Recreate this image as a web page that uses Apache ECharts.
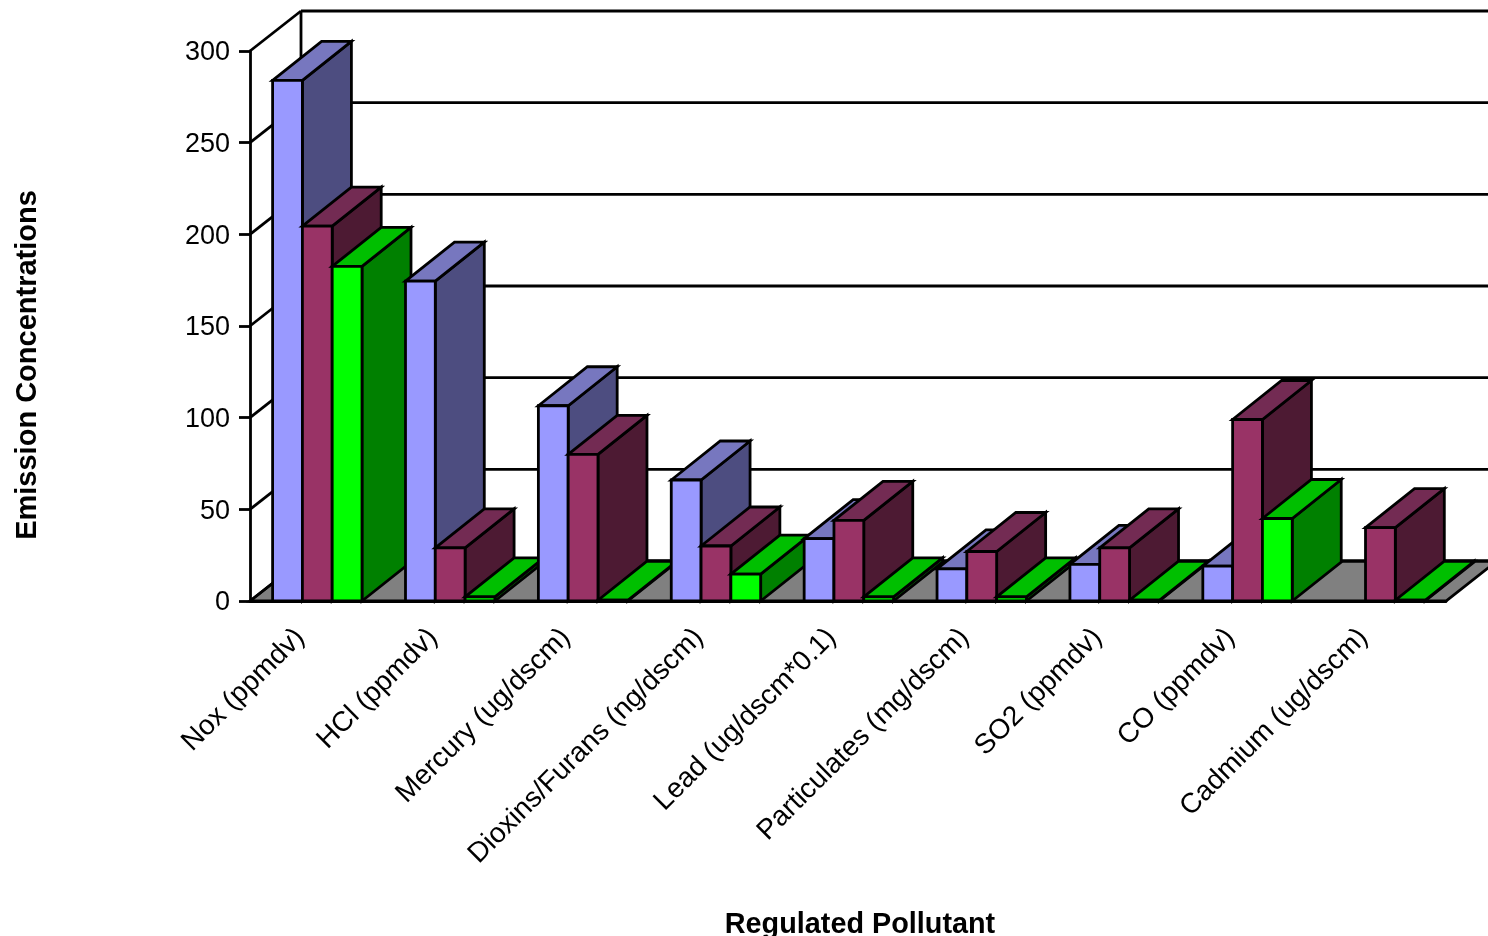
<!DOCTYPE html>
<html>
<head>
<meta charset="utf-8">
<title>Regulated pollutant emissions</title>
<style>html,body{margin:0;padding:0;background:#fff}#chart{width:1488px;height:936px}</style>
<script src="https://cdn.jsdelivr.net/npm/echarts@6/dist/echarts.min.js"></script>
</head>
<body>
<div id="chart"></div>
<script>
const pollutants = ['Nox (ppmdv)', 'HCl (ppmdv)', 'Mercury (ug/dscm)', 'Dioxins/Furans (ng/dscm)', 'Lead (ug/dscm*0.1)', 'Particulates (mg/dscm)', 'SO2 (ppmdv)', 'CO (ppmdv)', 'Cadmium (ug/dscm)'];
const seriesA = [284, 174.5, 106.5, 66, 34, 17.5, 20, 19, null];
const seriesB = [204.5, 29, 80, 30, 44, 27, 29, 99, 40];
const seriesC = [182.5, 2.3, 0.4, 14.7, 2.3, 2.3, 0.4, 45, 0.4];
const wallTicks = [0, 50, 100, 150, 200, 250, 300];

// Oblique projection offsets for the pseudo-3D look
const WALL_DX = 51, WALL_DY = 40;
const BAR_DX = 49, BAR_DY = 39;
const BAR_W = 29.8, BAR_INSET = 22.6;
const STROKE = 2.8;

const palettes = [
  { front: '#9999FF', top: '#7777BF', side: '#4D4D80' },
  { front: '#993366', top: '#732B53', side: '#4D1A33' },
  { front: '#00FF00', top: '#00BF00', side: '#008000' }
];

const poly = (points, fill, z2) => ({
  type: 'polygon',
  z2,
  shape: { points },
  style: { fill, stroke: '#000', lineWidth: STROKE, lineJoin: 'miter' }
});
const line = (a, b, z2) => ({
  type: 'line',
  z2,
  shape: { x1: a[0], y1: a[1], x2: b[0], y2: b[1] },
  style: { stroke: '#000', lineWidth: STROKE, fill: null }
});

function renderBar(slot) {
  return function (params, api) {
    const value = api.value(1);
    if (value == null || isNaN(value)) return null;
    const cat = api.value(0);
    const center = api.coord([cat, 0]);
    const band = api.size([1, 0])[0];
    const top = api.coord([cat, value])[1];
    const base = center[1];
    const x0 = center[0] - band / 2 + BAR_INSET + slot * BAR_W;
    const x1 = x0 + BAR_W;
    const c = palettes[slot];
    const z2 = 10 + cat * 3 + slot;
    return {
      type: 'group',
      children: [
        poly([[x1, base], [x1 + BAR_DX, base - BAR_DY], [x1 + BAR_DX, top - BAR_DY], [x1, top]], c.side, z2),
        poly([[x0, top], [x0 + BAR_DX, top - BAR_DY], [x1 + BAR_DX, top - BAR_DY], [x1, top]], c.top, z2),
        poly([[x0, base], [x0, top], [x1, top], [x1, base]], c.front, z2)
      ]
    };
  };
}

function renderWalls(params, api) {
  const tick = api.value(0);
  const band = api.size([1, 0])[0];
  const first = api.coord([0, tick]);
  const last = api.coord([pollutants.length - 1, tick]);
  const left = first[0] - band / 2;
  const right = last[0] + band / 2;
  const y = first[1];
  const children = [
    line([left, y], [left + WALL_DX, y - WALL_DY], 2),
    line([left + WALL_DX, y - WALL_DY], [right + WALL_DX, y - WALL_DY], 2)
  ];
  if (tick === 0) {
    children.unshift(poly(
      [[left, y], [left + WALL_DX, y - WALL_DY], [right + WALL_DX, y - WALL_DY], [right, y]],
      '#808080', 1
    ));
    const peak = api.coord([0, wallTicks[wallTicks.length - 1]])[1];
    children.push(line([left + WALL_DX, y - WALL_DY], [left + WALL_DX, peak - WALL_DY], 2));
  }
  return { type: 'group', children };
}

const chart = echarts.init(document.getElementById('chart'), null, { renderer: 'canvas' });
const font = '"Liberation Sans", Arial, sans-serif';

chart.setOption({
  animation: false,
  backgroundColor: '#fff',
  grid: { left: 250, right: 42, top: 51, bottom: 335, containLabel: false, outerBoundsMode: 'none' },
  xAxis: {
    type: 'category',
    data: pollutants,
    boundaryGap: true,
    z: 50,
    axisLine: { show: true, lineStyle: { color: '#000', width: STROKE } },
    axisTick: { show: false },
    axisLabel: { rotate: 45, margin: 16, padding: [0, 23, 0, 0], interval: 0, color: '#000', fontFamily: font, fontSize: 28 },
    name: 'Regulated Pollutant',
    nameLocation: 'middle',
    nameGap: 310,
    nameTextStyle: { fontFamily: font, fontSize: 28.8, fontWeight: 'bold', color: '#000', padding: [0, 0, 0, 24] }
  },
  yAxis: {
    type: 'value',
    min: 0,
    max: 300,
    interval: 50,
    z: 50,
    splitLine: { show: false },
    axisLine: { show: true, lineStyle: { color: '#000', width: STROKE } },
    axisTick: { show: true, length: 11, lineStyle: { color: '#000', width: STROKE } },
    axisLabel: { margin: 20, verticalAlign: 'top', lineHeight: 4, color: '#000', fontFamily: font, fontSize: 27 },
    name: 'Emission Concentrations',
    nameLocation: 'middle',
    nameGap: 208,
    nameRotate: 90,
    nameTextStyle: { fontFamily: font, fontSize: 29, fontWeight: 'bold', color: '#000', padding: [0, 78, 0, 0] }
  },
  series: [
    {
      name: 'Walls',
      type: 'custom',
      coordinateSystem: 'cartesian2d',
      clip: false,
      silent: true,
      encode: { y: 0 },
      renderItem: renderWalls,
      data: wallTicks.map(t => [t])
    },
    ...[seriesA, seriesB, seriesC].map((values, slot) => ({
      name: 'Series ' + (slot + 1),
      type: 'custom',
      coordinateSystem: 'cartesian2d',
      clip: false,
      encode: { x: 0, y: 1 },
      renderItem: renderBar(slot),
      data: values.map((v, i) => [i, v])
    }))
  ]
});
</script>
</body>
</html>
